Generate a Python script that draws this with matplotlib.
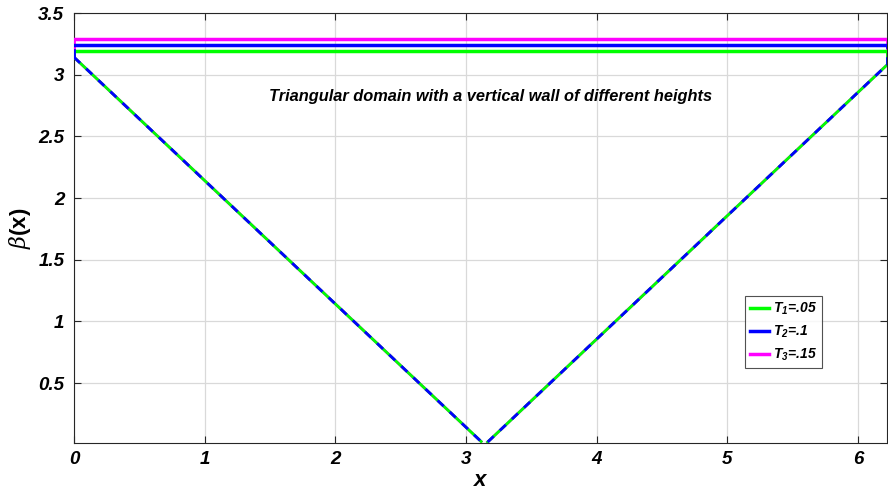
import numpy as np
import matplotlib
matplotlib.use("Agg")
import matplotlib.pyplot as plt

plt.rcParams['font.family'] = ['Liberation Sans', 'DejaVu Sans']
plt.rcParams['mathtext.fontset'] = 'custom'
plt.rcParams['mathtext.it'] = 'Liberation Sans:italic:bold'
plt.rcParams['mathtext.bf'] = 'Liberation Sans:italic:bold'
plt.rcParams['mathtext.rm'] = 'DejaVu Serif:italic'

# data
T_values = [0.05, 0.1, 0.15]
labels = [r'$\mathbf{T_1}$=.05', r'$\mathbf{T_2}$=.1', r'$\mathbf{T_3}$=.15']
colors = ['#00ff00', '#0000ff', '#ff00ff']
x_left = [0.0, 3.115]
y_left = [3.1416, 0.027]
x_right = [3.165, 6.2204]
y_right = [0.023, 3.079]
x_end = 6.2204
xticks = [0, 1, 2, 3, 4, 5, 6]
yticks = [0.5, 1, 1.5, 2, 2.5, 3, 3.5]

fig = plt.figure(figsize=(8.88, 4.92), dpi=100)
ax = fig.add_axes([74/888, 1-443/492, 813/888, 430/492])

vz = {2: 3, 0: 4, 1: 5}
for i in [2, 0, 1]:
    T = T_values[i]
    c = colors[i]
    top = np.pi + T
    ls = '-' if i != 1 else (0, (3, 3))
    z = vz[i]
    # V-shape (bottom)
    ax.plot(x_left, y_left, color=c, lw=2, ls=ls, zorder=z)
    ax.plot(x_right, y_right, color=c, lw=2, ls=ls, zorder=z)
    # walls
    ax.plot([0, 0], [y_left[0], top], color=c, lw=2, ls=ls, zorder=z)
    ax.plot([x_end, x_end], [y_right[-1], top], color=c, lw=2, ls=ls, zorder=z)
    # top line
    ax.plot([0, x_end], [top, top], color=c, lw=2.5, zorder=z)

handles = []
for i in range(3):
    h, = ax.plot([], [], color=colors[i], lw=2.5, label=labels[i])
    handles.append(h)

ax.set_xlim(0, x_end)
ax.set_ylim(0.015, 3.5)
ax.set_xticks(xticks)
ax.set_yticks(yticks)
ax.set_xticklabels([str(t) for t in xticks])
ax.set_yticklabels(['0.5', '1', '1.5', '2', '2.5', '3', '3.5'])
for lab in ax.get_xticklabels() + ax.get_yticklabels():
    lab.set_fontweight('bold')
    lab.set_fontstyle('italic')
    lab.set_fontsize(13.5)
ax.tick_params(axis='y', pad=7)
ax.tick_params(axis='x', pad=6)
ax.tick_params(direction='in', top=True, right=True, length=5, width=0.8, color='#262626')
ax.grid(True, color='#d9d9d9', lw=0.9)
ax.set_axisbelow(True)
for s in ax.spines.values():
    s.set_color('#262626')
    s.set_linewidth(0.8)

ax.set_xlabel('x', fontsize=16, fontweight='bold', fontstyle='italic', labelpad=1)
ax.set_ylabel(r'$\mathrm{\beta}$' + '(x)', fontsize=16, fontweight='bold', labelpad=4)

ax.text(0.512, 0.805, 'Triangular domain with a vertical wall of different heights',
        transform=ax.transAxes, ha='center', va='center', fontsize=11.8,
        fontweight='bold', fontstyle='italic')

leg = ax.legend(handles=handles, loc='upper left', bbox_to_anchor=(0.825, 0.343),
                fontsize=10, frameon=True, fancybox=False, edgecolor='#262626',
                handlelength=1.4, handletextpad=0.3, borderpad=0.35, labelspacing=0.5,
                borderaxespad=0)
leg.get_frame().set_linewidth(0.8)
for t in leg.get_texts():
    t.set_fontweight('bold')
    t.set_fontstyle('italic')

fig.savefig('out.png', dpi=100)
